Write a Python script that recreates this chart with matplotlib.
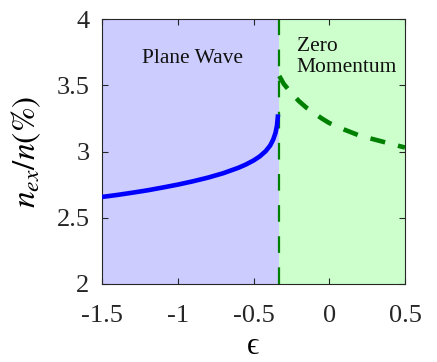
import matplotlib
matplotlib.use("Agg")
import matplotlib.pyplot as plt
import numpy as np

plt.rcParams['font.family'] = ['Liberation Serif', 'DejaVu Serif']
plt.rcParams['mathtext.fontset'] = 'stix'

# Data
eps_pw = [-1.5, -1.4, -1.3, -1.2, -1.1, -1.0, -0.9, -0.8, -0.7, -0.6, -0.55, -0.5,
          -0.46, -0.42, -0.39, -0.37, -0.355, -0.345, -0.338]
n_pw = [2.657, 2.672, 2.689, 2.707, 2.728, 2.750, 2.775, 2.803, 2.836, 2.877, 2.902, 2.932,
        2.962, 3.002, 3.045, 3.090, 3.140, 3.195, 3.28]
eps_zm = [-0.33, -0.3, -0.25, -0.2, -0.15, -0.1, -0.05, 0.0, 0.1, 0.2, 0.3, 0.4, 0.5]
n_zm = [3.57, 3.51, 3.44, 3.38, 3.33, 3.29, 3.25, 3.215, 3.165, 3.12, 3.09, 3.06, 3.03]
eps_c = -1/3
xticks = [-1.5, -1, -0.5, 0, 0.5]
xticklabels = ['-1.5', '-1', '-0.5', '0', '0.5']
yticks = [2, 2.5, 3, 3.5, 4]
yticklabels = ['2', '2.5', '3', '3.5', '4']

fig = plt.figure(figsize=(4.37, 3.62), dpi=100)
ax = fig.add_axes([102/437, 1-284/362, 303/437, 265/362])

ax.axvspan(-1.5, eps_c, color='#ccccff', lw=0, zorder=0)
ax.axvspan(eps_c, 0.5, color='#ccffcc', lw=0, zorder=0)
ax.plot(eps_pw, n_pw, color='#0000ff', lw=3.3, solid_capstyle='butt', zorder=3)
ax.plot(eps_zm, n_zm, color='#008000', lw=3.3, ls=(0, (3.3, 2.9)), dash_capstyle='butt', zorder=3)
ax.axvline(eps_c, color='#008000', lw=1.6, ls=(0, (7.5, 6.5)), dash_capstyle='butt', zorder=2)

ax.set_xlim(-1.5, 0.5)
ax.set_ylim(2, 4)
ax.set_xticks(xticks)
ax.set_xticklabels(xticklabels)
ax.set_yticks(yticks)
ax.set_yticklabels(yticklabels)
ax.tick_params(direction='in', top=True, right=True, labelsize=19, length=4, width=0.8,
               colors='#262626', labelcolor='#262626')
ax.tick_params(axis='x', pad=15)
ax.tick_params(axis='y', pad=9)
for s in ax.spines.values():
    s.set_color('#262626')
    s.set_linewidth(0.8)

ax.text(-0.9, 3.70, 'Plane Wave', fontsize=15.5, ha='center', va='center', color='#111111')
ax.text(-0.215, 3.715, 'Zero\nMomentum', fontsize=15.5, ha='left', va='center',
        color='#111111', linespacing=1.12)

ax.set_xlabel('ϵ', fontsize=22, labelpad=4)
ax.set_ylabel(r'$n_{ex}/n(\%)$', fontsize=24, labelpad=10)

fig.savefig('out.png', dpi=100)
